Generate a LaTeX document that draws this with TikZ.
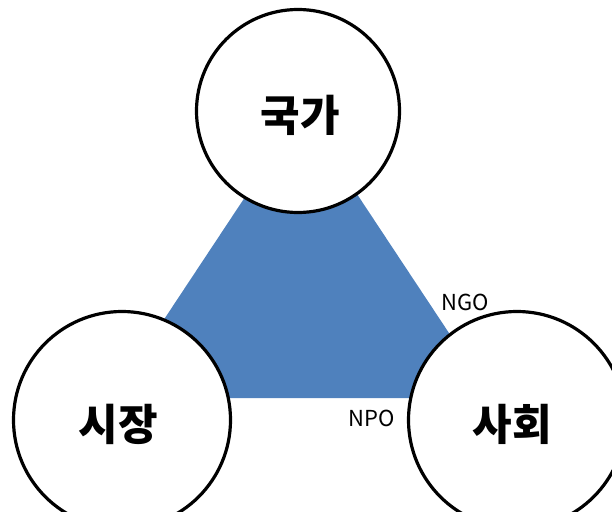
\documentclass[tikz,border=0pt]{standalone}
\usepackage{fontspec}
\newfontfamily\kr{Noto Sans CJK KR}
\definecolor{triblue}{HTML}{4F81BD}
\begin{document}
\begin{tikzpicture}[x=1pt,y=-1pt,
  actor/.style={circle,draw=black,line width=3.2pt,fill=white,inner sep=0pt},
  actortext/.style={font=\kr\bfseries\fontsize{43}{46}\selectfont,inner sep=0pt,yshift=-4pt},
  orglabel/.style={font=\kr\fontsize{22}{26}\selectfont,inner sep=0pt}]
\useasboundingbox (0,0) rectangle (612,511);
\clip (0,0) rectangle (612,511);
\fill[triblue] (302,111) -- (112,398) -- (492,398) -- cycle;
\node[actor,minimum size=203pt,label={[actortext,xshift=2pt]center:국가}] (state) at (298,111) {};
\node[actor,minimum size=217pt,label={[actortext,xshift=-4pt]center:시장}] (market) at (122,420) {};
\node[actor,minimum size=217pt,label={[actortext,xshift=-5pt]center:사회}] (society) at (517,420) {};
\node[orglabel] (ngo) at (465,302) {NGO};
\node[orglabel] (npo) at (372,418) {NPO};
\end{tikzpicture}
\end{document}
